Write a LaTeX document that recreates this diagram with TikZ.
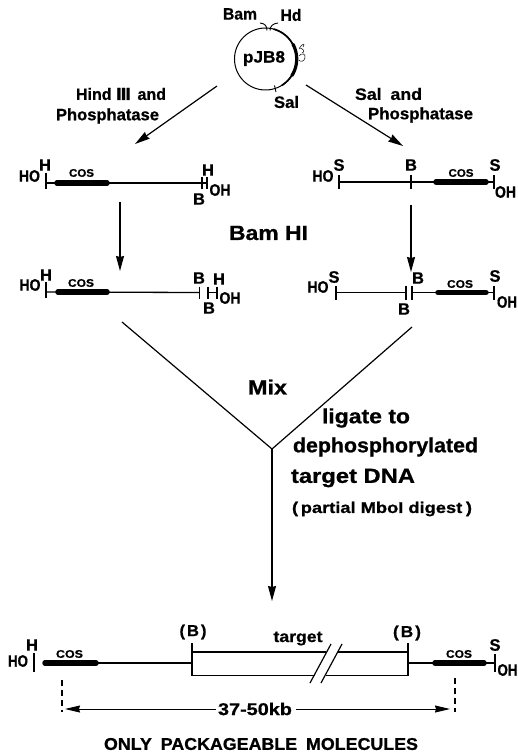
\documentclass[tikz,border=0pt]{standalone}
\usepackage{fontspec}
\usepackage{graphicx}
\setmainfont{Liberation Sans}[BoldFeatures={FakeBold=0.8}]
\newfontfamily\romf{DejaVu Sans}[BoldFeatures={FakeBold=1}]
\usetikzlibrary{arrows.meta}
\newcommand\wtx[2]{\resizebox{#1pt}{\height}{#2}}
\tikzset{
 lab/.style={inner sep=0pt,font=\fontsize{16.5}{16.5}\selectfont\bfseries},
 big/.style={inner sep=0pt,font=\fontsize{20.5}{21}\selectfont\bfseries},
 caplab/.style={inner sep=0pt,font=\fontsize{17}{17}\selectfont\bfseries},
 cosl/.style={inner sep=0pt,font=\fontsize{11}{11}\selectfont\bfseries},
 dna/.style={line width=1.3pt},
 cosbar/.style={line width=5.5pt,line cap=round},
 tk/.style={line width=1.2pt},
 arr/.style={line width=1.2pt,-{Stealth[length=15pt,width=8pt,inset=1pt]}},
 vee/.style={line width=1.2pt}
}
\begin{document}
\begin{tikzpicture}[x=1pt,y=-1pt]
\useasboundingbox (0,0) rectangle (518,754);
% plasmid
\node[circle,draw,line width=1pt,minimum size=62pt,inner sep=0pt] (plasmid) at (265.5,59) {};
\node[lab,font=\fontsize{16.5}{17}\selectfont\bfseries] (pj) at (264,58.5) {\wtx{42}{pJB8}};
\draw[line width=1.7pt] plot[smooth,domain=-75:58,samples=30] ({265.5+31*cos(\x)},{59+31*sin(\x)});
\draw[line width=3.2pt,line cap=round] plot[smooth,domain=-28:32,samples=20] ({265.5+31.2*cos(\x)},{59+31.2*sin(\x)});
\node[lab] (bam) at (240,14) {\wtx{34}{Bam}};
\node[lab] (hd) at (291,15) {\wtx{21}{Hd}};
\node[lab] (sal) at (286.5,102) {\wtx{25}{Sal}};
\draw[line width=.9pt] (260,23) .. controls (265,23.5) and (267,26) .. (267,30.5);
\draw[line width=.9pt] (278,23) .. controls (273,23.5) and (270,26) .. (270,30.5);
\draw[line width=.9pt] (274.5,85.5) -- (276,92);
\draw[line width=.5pt] (299,49) .. controls (302,43) and (306,43) .. (303,47);
\draw[line width=.5pt] (300,48) .. controls (304,49) and (305,52) .. (302,53);
\draw[line width=.5pt] (299,56) .. controls (302,52) and (306,54) .. (305,58) .. controls (304,62) and (300,62) .. (299,60);
% top labels
\node[lab] (hind) at (121,94) {\wtx{90}{Hind {\romf\bfseries Ⅲ}\hspace{.4em}and}};
\node[lab] (pha) at (107.5,116) {\wtx{103}{Phosphatase}};
\node[lab] (saland) at (388.5,94) {\wtx{67}{Sal\hspace{.5em}and}};
\node[lab] (phb) at (420.5,115) {\wtx{105}{Phosphatase}};
% top arrows
\coordinate (la) at (217,86); \coordinate (lb) at (135,144);
\coordinate (ra) at (306,85); \coordinate (rb) at (403,146);
\draw[arr] (la) -- (lb);
\draw[arr] (ra) -- (rb);
% row 1 left
\coordinate (a0) at (46,183); \coordinate (a1) at (57,183); \coordinate (a2) at (107,183); \coordinate (a3) at (202,183); \coordinate (a4) at (207,183);
\draw[dna] (a0) -- (a3) -- (a4);
\draw[cosbar] (a1) -- (a2);
\draw[tk] (a0)+(0,-10) -- +(0,6);
\draw[tk] (a3)+(0,-5.5) -- +(0,5.5);
\draw[tk] (a4)+(0,-5.5) -- +(0,5.5);
\node[lab] (a5) at (29.5,176) {\wtx{21}{HO}};
\node[lab] (a6) at (45,165) {H};
\node[cosl] (a7) at (81.5,173) {\wtx{25}{COS}};
\node[lab] (a8) at (208,170) {H};
\node[lab] (a9) at (199,199) {B};
\node[lab] (a10) at (220,190) {\wtx{21}{OH}};
% row 2 left
\coordinate (b0) at (46,292); \coordinate (b1) at (58,292); \coordinate (b2) at (107,292); \coordinate (b3) at (199.5,292.5); \coordinate (b4) at (208,292.5); \coordinate (b5) at (217,292.5);
\draw[dna] (b0) -- (b3);
\draw[cosbar] (b1) -- (b2);
\draw[dna] (b4) -- (b5);
\draw[tk] (b0)+(0,-10) -- +(0,6);
\draw[tk] (b3)+(0,-6) -- +(0,6);
\draw[tk] (b4)+(0,-6) -- +(0,6);
\draw[tk] (b5)+(0,-6) -- +(0,6);
\node[lab] (b6) at (30,285) {\wtx{21}{HO}};
\node[lab] (b7) at (46,275) {H};
\node[cosl] (b8) at (81,283) {\wtx{26}{COS}};
\node[lab] (b9) at (199,278) {B};
\node[lab] (b10) at (219,279) {H};
\node[lab] (b11) at (209,308) {B};
\node[lab] (b12) at (230,298) {\wtx{21}{OH}};
% row 1 right
\coordinate (c0) at (339,182); \coordinate (c1) at (411,182); \coordinate (c2) at (436,182); \coordinate (c3) at (486,182); \coordinate (c4) at (494,182);
\draw[dna] (c0) -- (c4);
\draw[cosbar] (c2) -- (c3);
\draw[tk] (c0)+(0,-7) -- +(0,7);
\draw[tk] (c1)+(0,-7) -- +(0,7);
\draw[tk] (c4)+(0,-7) -- +(0,7);
\node[lab] (c5) at (339,165) {S};
\node[lab] (c6) at (323,176) {\wtx{21}{HO}};
\node[lab] (c7) at (411,165) {B};
\node[cosl] (c8) at (461,173) {\wtx{25}{COS}};
\node[lab] (c9) at (495,165) {S};
\node[lab] (c10) at (505.5,192) {\wtx{21}{OH}};
% row 2 right
\coordinate (d0) at (336,292.5); \coordinate (d1) at (406,292.5); \coordinate (d2) at (412,292.5); \coordinate (d3) at (438,292.5); \coordinate (d4) at (486,292.5); \coordinate (d5) at (494,292.5);
\draw[dna] (d0) -- (d1);
\draw[dna] (d2) -- (d5);
\draw[cosbar] (d3) -- (d4);
\draw[tk] (d0)+(0,-7) -- +(0,7);
\draw[tk] (d1)+(0,-7) -- +(0,7);
\draw[tk] (d2)+(0,-7) -- +(0,7);
\draw[tk] (d5)+(0,-7) -- +(0,7);
\node[lab] (d6) at (334,277) {S};
\node[lab] (d7) at (318,287) {\wtx{21}{HO}};
\node[lab] (d8) at (418,278) {B};
\node[lab] (d9) at (404,309) {B};
\node[cosl] (d10) at (460,284) {\wtx{26}{COS}};
\node[lab] (d11) at (495,276) {S};
\node[lab] (d12) at (507,302) {\wtx{20}{OH}};
% vertical arrows
\coordinate (e0) at (120,202); \coordinate (e1) at (120,271);
\coordinate (e2) at (411,205); \coordinate (e3) at (411,272);
\draw[arr] (e0) -- (e1);
\draw[arr] (e2) -- (e3);
\node[big] (bamhi) at (268.5,233) {\wtx{79}{Bam HI}};
% vee
\coordinate (v0) at (122,322); \coordinate (v1) at (412,327); \coordinate (vj) at (272,449); \coordinate (v2) at (272,601);
\draw[vee] (v0) -- (vj) -- (v1);
\draw[arr] (vj) -- (v2);
\node[big] (mix) at (267.5,387) {\wtx{39}{Mix}};
\node[big] (lig) at (366,418) {\wtx{88}{ligate to}};
\node[big] (dep) at (385.5,447) {\wtx{185}{dephosphorylated}};
\node[big] (tdna) at (353,478) {\wtx{124}{target DNA}};
\node[inner sep=0pt,font=\fontsize{15.5}{16}\selectfont\bfseries] (par) at (382,509) {\wtx{180}{(\hspace{.15em}partial MboI digest\hspace{.2em})}};
% bottom
\coordinate (f0) at (34,663); \coordinate (f1) at (45,663); \coordinate (f2) at (96,663); \coordinate (f3) at (192,663);
\coordinate (f4) at (408,663); \coordinate (f5) at (435,663); \coordinate (f6) at (484,663); \coordinate (f7) at (495,663);
\draw[tk] (f0)+(0,-10) -- +(0,9);
\draw[dna] (f1) -- (f3);
\draw[cosbar] (f1) -- (f2);
\draw[dna] (f4) -- (f7);
\draw[cosbar] (f5) -- (f6);
\draw[tk] (f7)+(0,-9) -- +(0,9);
\coordinate (g0) at (192,643); \coordinate (g1) at (192,675.5); \coordinate (g2) at (408,643); \coordinate (g3) at (408,675.5);
\draw[tk] (g0) -- (g1);
\draw[tk] (g2) -- (g3);
\coordinate (h1) at (192,652); \coordinate (h2) at (326,652); \coordinate (h3) at (338,652); \coordinate (h4) at (408,652);
\coordinate (h5) at (315,675.5); \coordinate (h6) at (326,675.5);
\draw[dna] (h1) -- (h2); \draw[dna] (h3) -- (h4);
\draw[dna] (g1) -- (h5); \draw[dna] (h6) -- (g3);
\coordinate (k1) at (310,683); \coordinate (k2) at (331,644); \coordinate (k3) at (321,683); \coordinate (k4) at (342,644);
\draw[tk] (k1) -- (k2); \draw[tk] (k3) -- (k4);
\node[lab] (f8) at (18,661) {\wtx{20}{HO}};
\node[lab] (f9) at (32,645) {H};
\node[cosl] (f10) at (69.5,654) {\wtx{27}{COS}};
\node[caplab,font=\fontsize{16}{16}\selectfont\bfseries] (f11) at (193,632) {\wtx{27}{(\hspace{.12em}B\hspace{.12em})}};
\node[caplab,font=\fontsize{16}{16}\selectfont\bfseries] (f12) at (298,638.5) {\wtx{49}{target}};
\node[caplab,font=\fontsize{16}{16}\selectfont\bfseries] (f13) at (407,633) {\wtx{28}{(\hspace{.12em}B\hspace{.12em})}};
\node[cosl] (f14) at (459,654) {\wtx{26}{COS}};
\node[lab] (f15) at (495,645) {S};
\node[lab] (f16) at (507.5,670) {\wtx{20}{OH}};
% dimension
\coordinate (m0) at (62,680); \coordinate (m1) at (62,712); \coordinate (m2) at (455,678); \coordinate (m3) at (455,712);
\draw[tk,dash pattern=on 6pt off 4pt] (m0) -- (m1);
\draw[tk,dash pattern=on 6pt off 4pt] (m2) -- (m3);
\node[caplab] (kb) at (255,709) {\wtx{74}{37-50kb}};
\coordinate (n0) at (65,709); \coordinate (n1) at (450,709);
\draw[line width=.9pt,-{Stealth[length=15pt,width=7pt,inset=1pt]}] (kb.west) ++(-2,0) -- (n0);
\draw[line width=.9pt,-{Stealth[length=15pt,width=7pt,inset=1pt]}] (kb.east) ++(4,0) -- (n1);
\node[caplab] (only) at (261,744) {\wtx{314}{ONLY\hspace{.5em}PACKAGEABLE\hspace{.5em}MOLECULES}};
\end{tikzpicture}
\end{document}
